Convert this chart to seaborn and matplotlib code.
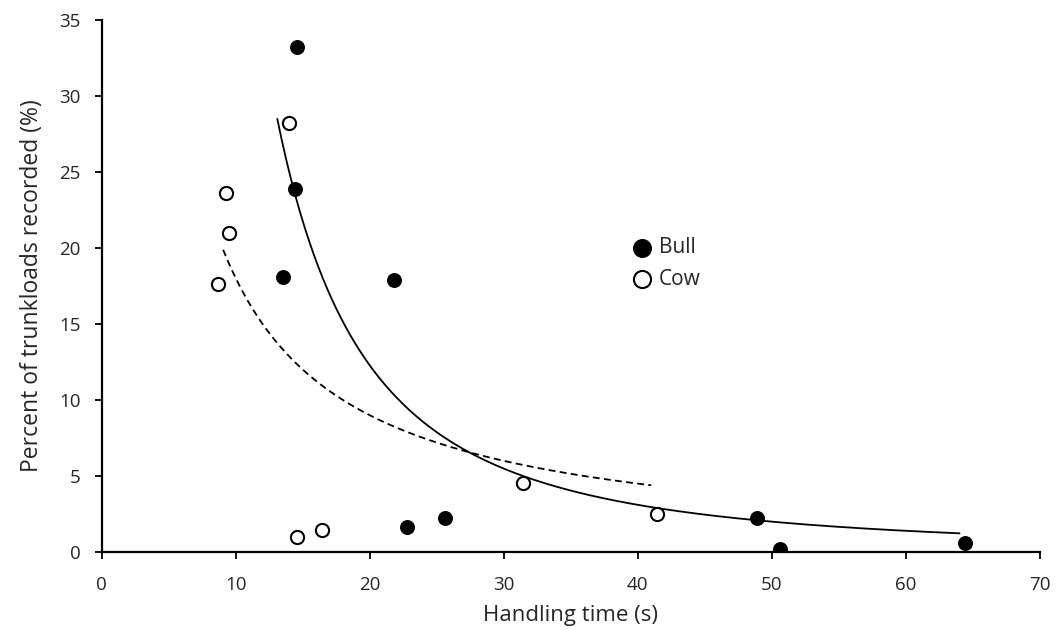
import numpy as np
import pandas as pd
import matplotlib
matplotlib.use("Agg")
import matplotlib.pyplot as plt
import seaborn as sns

# ---------------------------
# Data
# ---------------------------
bull_time = [14.6, 14.4, 13.5, 21.8, 22.8, 25.6, 48.9, 50.6, 64.4]
bull_pct = [33.2, 23.9, 18.1, 17.9, 1.6, 2.2, 2.2, 0.2, 0.6]

cow_time = [14.0, 9.3, 9.5, 8.7, 14.6, 16.4, 31.4, 41.4]
cow_pct = [28.2, 23.6, 21.0, 17.6, 1.0, 1.4, 4.5, 2.5]

# power trendlines y = a * x^b, coefficients and spans
bull_fit = (4790.0, -1.992)
bull_span = (13.1, 64.0)
cow_fit = (181.3, -1.003)
cow_span = (9.06, 41.0)

df = pd.concat([
    pd.DataFrame({"time": bull_time, "pct": bull_pct, "sex": "Bull"}),
    pd.DataFrame({"time": cow_time, "pct": cow_pct, "sex": "Cow"}),
], ignore_index=True)

sns.set_style("white")
plt.rcParams["font.family"] = ["Open Sans", "DejaVu Sans"]

fig = plt.figure(figsize=(10.64, 6.3), dpi=100)
ax = fig.add_axes([0.0956, 0.1243, 0.8818, 0.8438])


def trend(fit, span):
    xs = np.linspace(span[0], span[1], 300)
    return xs, fit[0] * xs ** fit[1]


bx, by = trend(bull_fit, bull_span)
cx, cy = trend(cow_fit, cow_span)
sns.lineplot(x=bx, y=by, ax=ax, color="black", lw=1.3, sort=False)
sns.lineplot(x=cx, y=cy, ax=ax, color="black", lw=1.3, sort=False,
             linestyle=(0, (3.8, 2.4)))

sns.scatterplot(data=df[df.sex == "Bull"], x="time", y="pct", ax=ax,
                color="black", edgecolor="black", s=95, linewidth=1.0,
                label="Bull", zorder=3)
sns.scatterplot(data=df[df.sex == "Cow"], x="time", y="pct", ax=ax,
                color="white", edgecolor="black", s=90, linewidth=1.5,
                label="Cow", zorder=3)

ax.set_xlim(0, 70)
ax.set_ylim(0, 35)
ax.set_xticks(range(0, 71, 10))
ax.set_yticks(range(0, 36, 5))
ax.set_xlabel("Handling time (s)", fontsize=16, labelpad=8)
ax.set_ylabel("Percent of trunkloads recorded (%)", fontsize=16.5, labelpad=11)
ax.tick_params(axis="both", labelsize=13.5, direction="out", length=5.3,
               width=1.3, color="black", bottom=True, left=True)
ax.tick_params(axis="x", pad=12)
ax.tick_params(axis="y", pad=10)

sns.despine(ax=ax)
for side in ("left", "bottom"):
    ax.spines[side].set_linewidth(1.6)
    ax.spines[side].set_color("black")

leg = ax.legend(loc="center left", bbox_to_anchor=(0.555, 0.542),
                frameon=False, fontsize=15, handlelength=0.9,
                handletextpad=0.35, labelspacing=0.5, markerscale=1.3,
                borderpad=0)

fig.savefig("out.png", dpi=100)
